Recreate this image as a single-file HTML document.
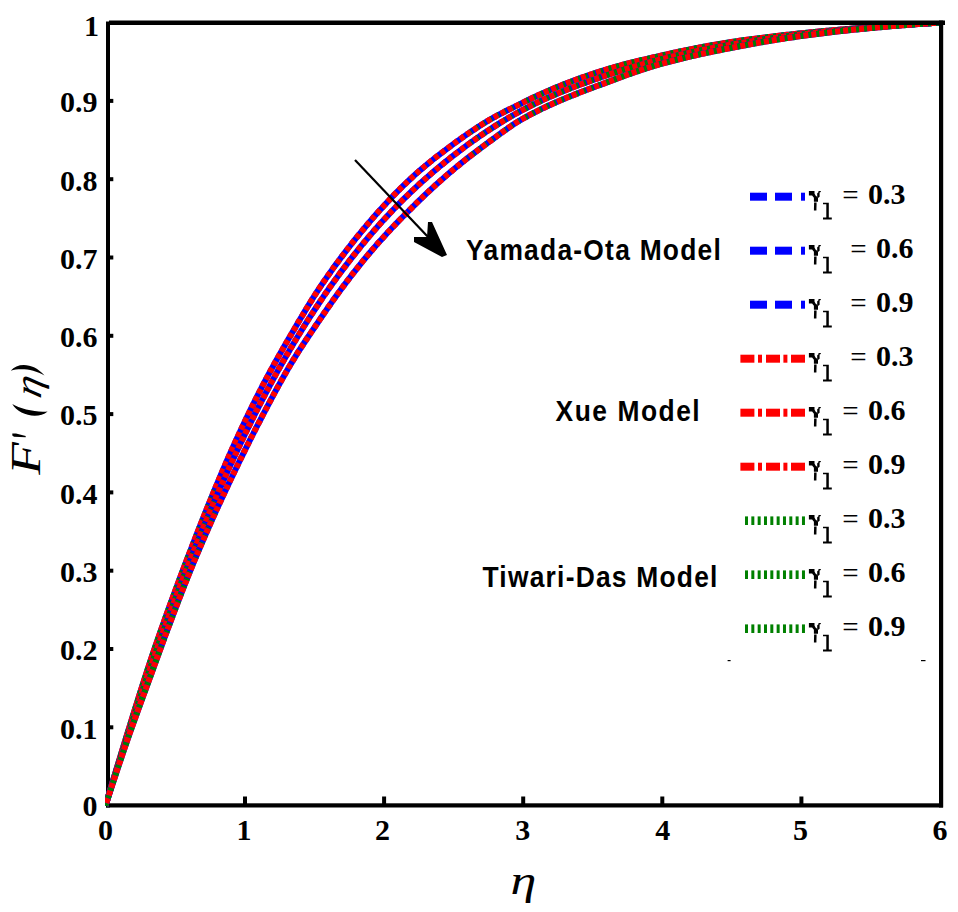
<!DOCTYPE html>
<html><head><meta charset="utf-8"><style>
html,body{margin:0;padding:0;background:#fff;overflow:hidden;}
svg{display:block;}
.num{font-family:"Liberation Serif",serif;font-weight:bold;font-size:30px;fill:#000;}
.mdl{font-family:"Liberation Sans",sans-serif;font-weight:bold;font-size:29px;fill:#000;}
.gam{font-family:"Liberation Serif",serif;font-size:28.5px;fill:#000;}
.sub{font-family:"Liberation Serif",serif;font-size:25px;fill:#000;}
.eq{font-family:"Liberation Serif",serif;font-size:29px;fill:#000;}
.it{font-family:"Liberation Serif",serif;font-style:italic;fill:#000;}
.bi{font-family:"Liberation Serif",serif;font-style:italic;font-weight:bold;fill:#000;}
</style></head><body>
<svg width="958" height="912" viewBox="0 0 958 912">
<rect width="958" height="912" fill="#fff"/>

<g fill="#000">
<rect x="106" y="21.5" width="4" height="786"/>
<rect x="109" y="20.5" width="836" height="4.5"/>
<rect x="939" y="20.5" width="4.2" height="787"/>
<rect x="106" y="803.3" width="837" height="4.2"/>
<rect x="110" y="725.3" width="3.3" height="4"/><rect x="110" y="647.0" width="3.3" height="4"/><rect x="110" y="568.7" width="3.3" height="4"/><rect x="110" y="490.4" width="3.3" height="4"/><rect x="110" y="412.1" width="3.3" height="4"/><rect x="110" y="333.8" width="3.3" height="4"/><rect x="110" y="255.5" width="3.3" height="4"/><rect x="110" y="177.2" width="3.3" height="4"/><rect x="110" y="98.9" width="3.3" height="4"/><rect x="243.0" y="796.5" width="4" height="8"/><rect x="382.1" y="796.5" width="4" height="8"/><rect x="521.2" y="796.5" width="4" height="8"/><rect x="660.3" y="796.5" width="4" height="8"/><rect x="799.4" y="796.5" width="4" height="8"/>
</g>
<defs><g id="gam" fill="#000"><polygon points="808.9,190.9 814.5,190.9 814.5,193.5 815.5,195.5 818,197.6 818,201.8 813.9,201.8 813.9,197.8 812.1,195.5 808.9,195.5"/><polygon points="817.2,193.3 818.3,192.6 818.6,190.9 820.8,190.9 820.8,191.9 819.6,192.4 819.6,196.7 818,198 817.2,196.9"/><polygon points="814.1,202.6 816.6,202.6 816.4,210.5 813.9,210.5"/><polygon points="823,202.8 828.8,202.8 828.8,217.6 831.8,217.6 831.8,219.6 823,219.6 823,217.6 826.3,217.6 826.3,204.2 823,204.2"/></g><clipPath id="pc"><rect x="105" y="25" width="834" height="782"/></clipPath></defs>
<g fill="none" stroke-width="6.0" clip-path="url(#pc)"><path d="M105.50,805.60 L107.49,798.95 L109.47,792.32 L111.46,785.72 L113.45,779.14 L115.44,772.59 L117.42,766.06 L119.41,759.55 L121.40,753.07 L123.38,746.62 L125.37,740.18 L127.36,733.75 L129.35,727.32 L131.33,720.91 L133.32,714.51 L135.31,708.14 L137.29,701.80 L139.28,695.50 L141.27,689.23 L143.26,683.01 L145.24,676.85 L147.23,670.73 L149.22,664.68 L151.20,658.69 L153.19,652.77 L155.18,646.93 L157.17,641.17 L159.15,635.45 L161.14,629.79 L163.13,624.16 L165.11,618.58 L167.10,613.04 L169.09,607.55 L171.08,602.09 L173.06,596.67 L175.05,591.28 L177.04,585.93 L179.02,580.60 L181.01,575.31 L183.00,570.05 L184.99,564.82 L186.97,559.61 L188.96,554.42 L190.95,549.26 L192.93,544.11 L194.92,538.99 L196.91,533.89 L198.90,528.82 L200.88,523.77 L202.87,518.76 L204.86,513.77 L206.84,508.82 L208.83,503.91 L210.82,499.03 L212.81,494.20 L214.79,489.40 L216.78,484.64 L218.77,479.91 L220.75,475.21 L222.74,470.54 L224.73,465.90 L226.72,461.31 L228.70,456.75 L230.69,452.24 L232.68,447.78 L234.66,443.37 L236.65,439.01 L238.64,434.70 L240.63,430.43 L242.61,426.19 L244.60,421.99 L246.59,417.82 L248.57,413.70 L250.56,409.61 L252.55,405.56 L254.54,401.55 L256.52,397.59 L258.51,393.66 L260.50,389.78 L262.48,385.95 L264.47,382.15 L266.46,378.40 L268.45,374.69 L270.43,371.02 L272.42,367.38 L274.41,363.78 L276.39,360.21 L278.38,356.67 L280.37,353.15 L282.36,349.67 L284.34,346.21 L286.33,342.77 L288.32,339.35 L290.30,335.95 L292.29,332.56 L294.28,329.16 L296.27,325.77 L298.25,322.39 L300.24,319.03 L302.23,315.69 L304.21,312.36 L306.20,309.07 L308.19,305.80 L310.18,302.57 L312.16,299.38 L314.15,296.23 L316.14,293.12 L318.12,290.07 L320.11,287.07 L322.10,284.12 L324.09,281.21 L326.07,278.33 L328.06,275.49 L330.05,272.67 L332.03,269.88 L334.02,267.11 L336.01,264.38 L338.00,261.67 L339.98,258.99 L341.97,256.34 L343.96,253.71 L345.94,251.11 L347.93,248.53 L349.92,245.98 L351.91,243.45 L353.89,240.94 L355.88,238.45 L357.87,235.99 L359.85,233.54 L361.84,231.12 L363.83,228.73 L365.82,226.35 L367.80,224.00 L369.79,221.67 L371.78,219.36 L373.76,217.08 L375.75,214.82 L377.74,212.58 L379.73,210.36 L381.71,208.16 L383.70,205.99 L385.69,203.84 L387.67,201.71 L389.66,199.60 L391.65,197.52 L393.64,195.45 L395.62,193.41 L397.61,191.39 L399.60,189.40 L401.58,187.42 L403.57,185.47 L405.56,183.54 L407.55,181.64 L409.53,179.78 L411.52,177.93 L413.51,176.12 L415.49,174.33 L417.48,172.57 L419.47,170.83 L421.46,169.12 L423.44,167.42 L425.43,165.75 L427.42,164.11 L429.40,162.48 L431.39,160.87 L433.38,159.28 L435.37,157.71 L437.35,156.15 L439.34,154.61 L441.33,153.09 L443.31,151.57 L445.30,150.07 L447.29,148.58 L449.28,147.09 L451.26,145.61 L453.25,144.15 L455.24,142.70 L457.22,141.26 L459.21,139.83 L461.20,138.41 L463.19,137.01 L465.17,135.62 L467.16,134.24 L469.15,132.88 L471.13,131.54 L473.12,130.21 L475.11,128.89 L477.10,127.59 L479.08,126.31 L481.07,125.05 L483.06,123.80 L485.04,122.57 L487.03,121.35 L489.02,120.16 L491.01,119.00 L492.99,117.86 L494.98,116.76 L496.97,115.68 L498.95,114.61 L500.94,113.57 L502.93,112.55 L504.92,111.54 L506.90,110.54 L508.89,109.55 L510.88,108.57 L512.86,107.59 L514.85,106.61 L516.84,105.64 L518.83,104.66 L520.81,103.67 L522.80,102.68 L524.79,101.68 L526.77,100.70 L528.76,99.73 L530.75,98.77 L532.74,97.82 L534.72,96.89 L536.71,95.96 L538.70,95.05 L540.68,94.15 L542.67,93.25 L544.66,92.37 L546.65,91.50 L548.63,90.64 L550.62,89.79 L552.61,88.95 L554.59,88.12 L556.58,87.29 L558.57,86.48 L560.56,85.68 L562.54,84.88 L564.53,84.10 L566.52,83.33 L568.50,82.56 L570.49,81.80 L572.48,81.05 L574.47,80.31 L576.45,79.58 L578.44,78.86 L580.43,78.14 L582.41,77.43 L584.40,76.73 L586.39,76.04 L588.38,75.35 L590.36,74.68 L592.35,74.01 L594.34,73.35 L596.32,72.69 L598.31,72.04 L600.30,71.40 L602.29,70.77 L604.27,70.15 L606.26,69.53 L608.25,68.93 L610.23,68.34 L612.22,67.76 L614.21,67.18 L616.20,66.62 L618.18,66.07 L620.17,65.53 L622.16,65.00 L624.14,64.47 L626.13,63.95 L628.12,63.44 L630.11,62.94 L632.09,62.44 L634.08,61.95 L636.07,61.47 L638.05,60.99 L640.04,60.51 L642.03,60.04 L644.02,59.57 L646.00,59.11 L647.99,58.65 L649.98,58.19 L651.96,57.73 L653.95,57.27 L655.94,56.82 L657.93,56.37 L659.91,55.91 L661.90,55.46 L663.89,55.01 L665.87,54.56 L667.86,54.12 L669.85,53.68 L671.84,53.24 L673.82,52.80 L675.81,52.37 L677.80,51.95 L679.78,51.53 L681.77,51.11 L683.76,50.69 L685.75,50.28 L687.73,49.88 L689.72,49.48 L691.71,49.08 L693.69,48.68 L695.68,48.29 L697.67,47.91 L699.66,47.52 L701.64,47.15 L703.63,46.77 L705.62,46.40 L707.60,46.04 L709.59,45.68 L711.58,45.32 L713.57,44.97 L715.55,44.62 L717.54,44.28 L719.53,43.94 L721.51,43.61 L723.50,43.28 L725.49,42.95 L727.48,42.63 L729.46,42.32 L731.45,42.01 L733.44,41.70 L735.42,41.40 L737.41,41.11 L739.40,40.82 L741.39,40.53 L743.37,40.25 L745.36,39.97 L747.35,39.69 L749.33,39.42 L751.32,39.15 L753.31,38.89 L755.30,38.63 L757.28,38.37 L759.27,38.11 L761.26,37.86 L763.24,37.61 L765.23,37.37 L767.22,37.13 L769.21,36.89 L771.19,36.65 L773.18,36.42 L775.17,36.18 L777.15,35.95 L779.14,35.73 L781.13,35.50 L783.12,35.28 L785.10,35.06 L787.09,34.84 L789.08,34.62 L791.06,34.40 L793.05,34.19 L795.04,33.98 L797.03,33.76 L799.01,33.55 L801.00,33.34 L802.99,33.14 L804.97,32.93 L806.96,32.73 L808.95,32.53 L810.94,32.33 L812.92,32.13 L814.91,31.93 L816.90,31.74 L818.88,31.55 L820.87,31.36 L822.86,31.17 L824.85,30.98 L826.83,30.80 L828.82,30.62 L830.81,30.43 L832.79,30.26 L834.78,30.08 L836.77,29.90 L838.76,29.73 L840.74,29.56 L842.73,29.38 L844.72,29.21 L846.70,29.05 L848.69,28.88 L850.68,28.71 L852.67,28.55 L854.65,28.39 L856.64,28.23 L858.63,28.07 L860.61,27.91 L862.60,27.75 L864.59,27.60 L866.58,27.44 L868.56,27.29 L870.55,27.14 L872.54,26.99 L874.52,26.84 L876.51,26.69 L878.50,26.54 L880.49,26.40 L882.47,26.26 L884.46,26.11 L886.45,25.97 L888.43,25.83 L890.42,25.70 L892.41,25.56 L894.40,25.42 L896.38,25.29 L898.37,25.16 L900.36,25.02 L902.34,24.89 L904.33,24.76 L906.32,24.64 L908.31,24.51 L910.29,24.38 L912.28,24.26 L914.27,24.13 L916.25,24.01 L918.24,23.89 L920.23,23.77 L922.22,23.65 L924.20,23.53 L926.19,23.41 L928.18,23.29 L930.16,23.17 L932.15,23.06 L934.14,22.94 L936.13,22.83 L938.11,22.71 L940.10,22.60" stroke="#0000ff"/><path d="M105.50,805.60 L107.49,798.95 L109.47,792.32 L111.46,785.72 L113.45,779.14 L115.44,772.59 L117.42,766.06 L119.41,759.55 L121.40,753.07 L123.38,746.62 L125.37,740.18 L127.36,733.75 L129.35,727.32 L131.33,720.91 L133.32,714.51 L135.31,708.14 L137.29,701.80 L139.28,695.50 L141.27,689.23 L143.26,683.01 L145.24,676.85 L147.23,670.73 L149.22,664.68 L151.20,658.69 L153.19,652.77 L155.18,646.93 L157.17,641.17 L159.15,635.45 L161.14,629.79" stroke="#008000" stroke-dasharray="3 5" stroke-dashoffset="3.00"/><path d="M161.14,629.79 L163.28,623.73 L165.42,617.73 L167.56,611.77 L169.70,605.86 L171.84,600.00 L173.98,594.17 L176.12,588.39 L178.26,582.65 L180.40,576.94 L182.54,571.26 L184.68,565.62 L186.82,560.01 L188.96,554.42" stroke="#008000" stroke-dasharray="2 6" stroke-dashoffset="3.43"/><path d="M188.96,554.42 L190.95,549.26 L192.93,544.11 L194.92,538.99 L196.91,533.89 L198.90,528.82 L200.88,523.77 L202.87,518.76 L204.86,513.77 L206.84,508.82 L208.83,503.91 L210.82,499.03 L212.81,494.20 L214.79,489.40 L216.78,484.64" stroke="#008000" stroke-dasharray="1 7" stroke-dashoffset="3.76"/><path d="M467.16,134.24 L469.22,132.83 L471.28,131.44 L473.34,130.06 L475.40,128.70 L477.46,127.36 L479.52,126.03 L481.59,124.72 L483.65,123.43 L485.71,122.16 L487.77,120.91 L489.83,119.68 L491.89,118.49 L493.95,117.33 L496.01,116.19 L498.07,115.08 L500.13,114.00 L502.19,112.93 L504.25,111.87 L506.31,110.83 L508.37,109.81 L510.44,108.79 L512.50,107.77 L514.56,106.76 L516.62,105.75 L518.68,104.73 L520.74,103.71 L522.80,102.68" stroke="#008000" stroke-dasharray="1 7" stroke-dashoffset="3.62"/><path d="M522.80,102.68 L524.79,101.68 L526.77,100.70 L528.76,99.73 L530.75,98.77 L532.74,97.82 L534.72,96.89 L536.71,95.96 L538.70,95.05 L540.68,94.15 L542.67,93.25 L544.66,92.37 L546.65,91.50 L548.63,90.64 L550.62,89.79 L552.61,88.95 L554.59,88.12 L556.58,87.29 L558.57,86.48 L560.56,85.68 L562.54,84.88 L564.53,84.10 L566.52,83.33 L568.50,82.56 L570.49,81.80 L572.48,81.05 L574.47,80.31 L576.45,79.58 L578.44,78.86 L580.43,78.14 L582.41,77.43 L584.40,76.73 L586.39,76.04 L588.38,75.35 L590.36,74.68 L592.35,74.01 L594.34,73.35 L596.32,72.69 L598.31,72.04 L600.30,71.40 L602.29,70.77 L604.27,70.15 L606.26,69.53" stroke="#008000" stroke-dasharray="2 6" stroke-dashoffset="3.68"/><path d="M606.26,69.53 L608.25,68.93 L610.23,68.34 L612.22,67.76 L614.21,67.18 L616.20,66.62 L618.18,66.07 L620.17,65.53 L622.16,65.00 L624.14,64.47 L626.13,63.95 L628.12,63.44 L630.11,62.94 L632.09,62.44 L634.08,61.95 L636.07,61.47 L638.05,60.99 L640.04,60.51 L642.03,60.04 L644.02,59.57 L646.00,59.11 L647.99,58.65 L649.98,58.19 L651.96,57.73 L653.95,57.27 L655.94,56.82 L657.93,56.37 L659.91,55.91 L661.90,55.46 L663.89,55.01 L665.87,54.56 L667.86,54.12 L669.85,53.68 L671.84,53.24 L673.82,52.80 L675.81,52.37 L677.80,51.95 L679.78,51.53 L681.77,51.11 L683.76,50.69 L685.75,50.28 L687.73,49.88 L689.72,49.48 L691.71,49.08 L693.69,48.68 L695.68,48.29 L697.67,47.91 L699.66,47.52 L701.64,47.15 L703.63,46.77 L705.62,46.40 L707.60,46.04 L709.59,45.68 L711.58,45.32 L713.57,44.97 L715.55,44.62 L717.54,44.28 L719.53,43.94 L721.51,43.61 L723.50,43.28 L725.49,42.95 L727.48,42.63 L729.46,42.32 L731.45,42.01 L733.44,41.70 L735.42,41.40 L737.41,41.11 L739.40,40.82 L741.39,40.53 L743.37,40.25 L745.36,39.97 L747.35,39.69 L749.33,39.42 L751.32,39.15 L753.31,38.89 L755.30,38.63 L757.28,38.37 L759.27,38.11 L761.26,37.86 L763.24,37.61 L765.23,37.37 L767.22,37.13 L769.21,36.89 L771.19,36.65 L773.18,36.42 L775.17,36.18 L777.15,35.95 L779.14,35.73 L781.13,35.50 L783.12,35.28 L785.10,35.06 L787.09,34.84 L789.08,34.62 L791.06,34.40 L793.05,34.19 L795.04,33.98 L797.03,33.76 L799.01,33.55 L801.00,33.34 L802.99,33.14 L804.97,32.93 L806.96,32.73 L808.95,32.53 L810.94,32.33 L812.92,32.13 L814.91,31.93 L816.90,31.74 L818.88,31.55 L820.87,31.36 L822.86,31.17 L824.85,30.98 L826.83,30.80 L828.82,30.62 L830.81,30.43 L832.79,30.26 L834.78,30.08 L836.77,29.90 L838.76,29.73 L840.74,29.56 L842.73,29.38 L844.72,29.21 L846.70,29.05 L848.69,28.88 L850.68,28.71 L852.67,28.55 L854.65,28.39 L856.64,28.23 L858.63,28.07 L860.61,27.91 L862.60,27.75 L864.59,27.60 L866.58,27.44 L868.56,27.29 L870.55,27.14 L872.54,26.99 L874.52,26.84 L876.51,26.69 L878.50,26.54 L880.49,26.40 L882.47,26.26 L884.46,26.11 L886.45,25.97 L888.43,25.83 L890.42,25.70 L892.41,25.56 L894.40,25.42 L896.38,25.29 L898.37,25.16 L900.36,25.02 L902.34,24.89 L904.33,24.76 L906.32,24.64 L908.31,24.51 L910.29,24.38 L912.28,24.26 L914.27,24.13 L916.25,24.01 L918.24,23.89 L920.23,23.77 L922.22,23.65 L924.20,23.53 L926.19,23.41 L928.18,23.29 L930.16,23.17 L932.15,23.06 L934.14,22.94 L936.13,22.83 L938.11,22.71 L940.10,22.60" stroke="#008000" stroke-dasharray="3 5" stroke-dashoffset="5.58"/><path d="M105.50,805.60 L107.49,798.95 L109.47,792.32 L111.46,785.72 L113.45,779.14 L115.44,772.59 L117.42,766.06 L119.41,759.55 L121.40,753.07 L123.38,746.62 L125.37,740.18 L127.36,733.75 L129.35,727.32 L131.33,720.91 L133.32,714.51 L135.31,708.14 L137.29,701.80 L139.28,695.50 L141.27,689.23 L143.26,683.01 L145.24,676.85 L147.23,670.73 L149.22,664.68 L151.20,658.69 L153.19,652.77 L155.18,646.93 L157.17,641.17 L159.15,635.45 L161.14,629.79 L163.13,624.16 L165.11,618.58 L167.10,613.04 L169.09,607.55 L171.08,602.09 L173.06,596.67 L175.05,591.28 L177.04,585.93 L179.02,580.60 L181.01,575.31 L183.00,570.05 L184.99,564.82 L186.97,559.61 L188.96,554.42 L190.95,549.26 L192.93,544.11 L194.92,538.99 L196.91,533.89 L198.90,528.82 L200.88,523.77 L202.87,518.76 L204.86,513.77 L206.84,508.82 L208.83,503.91 L210.82,499.03 L212.81,494.20 L214.79,489.40 L216.78,484.64 L218.77,479.91 L220.75,475.21 L222.74,470.54 L224.73,465.90 L226.72,461.31 L228.70,456.75 L230.69,452.24 L232.68,447.78 L234.66,443.37 L236.65,439.01 L238.64,434.70 L240.63,430.43 L242.61,426.19 L244.60,421.99 L246.59,417.82 L248.57,413.70 L250.56,409.61 L252.55,405.56 L254.54,401.55 L256.52,397.59 L258.51,393.66 L260.50,389.78 L262.48,385.95 L264.47,382.15 L266.46,378.40 L268.45,374.69 L270.43,371.02 L272.42,367.38 L274.41,363.78 L276.39,360.21 L278.38,356.67 L280.37,353.15 L282.36,349.67 L284.34,346.21 L286.33,342.77 L288.32,339.35 L290.30,335.95 L292.29,332.56 L294.28,329.16 L296.27,325.77 L298.25,322.39 L300.24,319.03 L302.23,315.69 L304.21,312.36 L306.20,309.07 L308.19,305.80 L310.18,302.57 L312.16,299.38 L314.15,296.23 L316.14,293.12 L318.12,290.07 L320.11,287.07 L322.10,284.12 L324.09,281.21 L326.07,278.33 L328.06,275.49 L330.05,272.67 L332.03,269.88 L334.02,267.11 L336.01,264.38 L338.00,261.67 L339.98,258.99 L341.97,256.34 L343.96,253.71 L345.94,251.11 L347.93,248.53 L349.92,245.98 L351.91,243.45 L353.89,240.94 L355.88,238.45 L357.87,235.99 L359.85,233.54 L361.84,231.12 L363.83,228.73 L365.82,226.35 L367.80,224.00 L369.79,221.67 L371.78,219.36 L373.76,217.08 L375.75,214.82 L377.74,212.58 L379.73,210.36 L381.71,208.16 L383.70,205.99 L385.69,203.84 L387.67,201.71 L389.66,199.60 L391.65,197.52 L393.64,195.45 L395.62,193.41 L397.61,191.39 L399.60,189.40 L401.58,187.42 L403.57,185.47 L405.56,183.54 L407.55,181.64 L409.53,179.78 L411.52,177.93 L413.51,176.12 L415.49,174.33 L417.48,172.57 L419.47,170.83 L421.46,169.12 L423.44,167.42 L425.43,165.75 L427.42,164.11 L429.40,162.48 L431.39,160.87 L433.38,159.28 L435.37,157.71 L437.35,156.15 L439.34,154.61 L441.33,153.09 L443.31,151.57 L445.30,150.07 L447.29,148.58 L449.28,147.09 L451.26,145.61 L453.25,144.15 L455.24,142.70 L457.22,141.26 L459.21,139.83 L461.20,138.41 L463.19,137.01 L465.17,135.62 L467.16,134.24 L469.15,132.88 L471.13,131.54 L473.12,130.21 L475.11,128.89 L477.10,127.59 L479.08,126.31 L481.07,125.05 L483.06,123.80 L485.04,122.57 L487.03,121.35 L489.02,120.16 L491.01,119.00 L492.99,117.86 L494.98,116.76 L496.97,115.68 L498.95,114.61 L500.94,113.57 L502.93,112.55 L504.92,111.54 L506.90,110.54 L508.89,109.55 L510.88,108.57 L512.86,107.59 L514.85,106.61 L516.84,105.64 L518.83,104.66 L520.81,103.67 L522.80,102.68 L524.79,101.68 L526.77,100.70 L528.76,99.73 L530.75,98.77 L532.74,97.82 L534.72,96.89 L536.71,95.96 L538.70,95.05 L540.68,94.15 L542.67,93.25 L544.66,92.37 L546.65,91.50 L548.63,90.64 L550.62,89.79 L552.61,88.95 L554.59,88.12 L556.58,87.29 L558.57,86.48 L560.56,85.68 L562.54,84.88 L564.53,84.10 L566.52,83.33 L568.50,82.56 L570.49,81.80 L572.48,81.05 L574.47,80.31 L576.45,79.58 L578.44,78.86 L580.43,78.14 L582.41,77.43 L584.40,76.73 L586.39,76.04 L588.38,75.35 L590.36,74.68 L592.35,74.01 L594.34,73.35 L596.32,72.69 L598.31,72.04 L600.30,71.40 L602.29,70.77 L604.27,70.15 L606.26,69.53 L608.25,68.93 L610.23,68.34 L612.22,67.76 L614.21,67.18 L616.20,66.62 L618.18,66.07 L620.17,65.53 L622.16,65.00 L624.14,64.47 L626.13,63.95 L628.12,63.44 L630.11,62.94 L632.09,62.44 L634.08,61.95 L636.07,61.47 L638.05,60.99 L640.04,60.51 L642.03,60.04 L644.02,59.57 L646.00,59.11 L647.99,58.65 L649.98,58.19 L651.96,57.73 L653.95,57.27 L655.94,56.82 L657.93,56.37 L659.91,55.91 L661.90,55.46 L663.89,55.01 L665.87,54.56 L667.86,54.12 L669.85,53.68 L671.84,53.24 L673.82,52.80 L675.81,52.37 L677.80,51.95 L679.78,51.53 L681.77,51.11 L683.76,50.69 L685.75,50.28 L687.73,49.88 L689.72,49.48 L691.71,49.08 L693.69,48.68 L695.68,48.29 L697.67,47.91 L699.66,47.52 L701.64,47.15 L703.63,46.77 L705.62,46.40 L707.60,46.04 L709.59,45.68 L711.58,45.32 L713.57,44.97 L715.55,44.62 L717.54,44.28 L719.53,43.94 L721.51,43.61 L723.50,43.28 L725.49,42.95 L727.48,42.63 L729.46,42.32 L731.45,42.01 L733.44,41.70 L735.42,41.40 L737.41,41.11 L739.40,40.82 L741.39,40.53 L743.37,40.25 L745.36,39.97 L747.35,39.69 L749.33,39.42 L751.32,39.15 L753.31,38.89 L755.30,38.63 L757.28,38.37 L759.27,38.11 L761.26,37.86 L763.24,37.61 L765.23,37.37 L767.22,37.13 L769.21,36.89 L771.19,36.65 L773.18,36.42 L775.17,36.18 L777.15,35.95 L779.14,35.73 L781.13,35.50 L783.12,35.28 L785.10,35.06 L787.09,34.84 L789.08,34.62 L791.06,34.40 L793.05,34.19 L795.04,33.98 L797.03,33.76 L799.01,33.55 L801.00,33.34 L802.99,33.14 L804.97,32.93 L806.96,32.73 L808.95,32.53 L810.94,32.33 L812.92,32.13 L814.91,31.93 L816.90,31.74 L818.88,31.55 L820.87,31.36 L822.86,31.17 L824.85,30.98 L826.83,30.80 L828.82,30.62 L830.81,30.43 L832.79,30.26 L834.78,30.08 L836.77,29.90 L838.76,29.73 L840.74,29.56 L842.73,29.38 L844.72,29.21 L846.70,29.05 L848.69,28.88 L850.68,28.71 L852.67,28.55 L854.65,28.39 L856.64,28.23 L858.63,28.07 L860.61,27.91 L862.60,27.75 L864.59,27.60 L866.58,27.44 L868.56,27.29 L870.55,27.14 L872.54,26.99 L874.52,26.84 L876.51,26.69 L878.50,26.54 L880.49,26.40 L882.47,26.26 L884.46,26.11 L886.45,25.97 L888.43,25.83 L890.42,25.70 L892.41,25.56 L894.40,25.42 L896.38,25.29 L898.37,25.16 L900.36,25.02 L902.34,24.89 L904.33,24.76 L906.32,24.64 L908.31,24.51 L910.29,24.38 L912.28,24.26 L914.27,24.13 L916.25,24.01 L918.24,23.89 L920.23,23.77 L922.22,23.65 L924.20,23.53 L926.19,23.41 L928.18,23.29 L930.16,23.17 L932.15,23.06 L934.14,22.94 L936.13,22.83 L938.11,22.71 L940.10,22.60" stroke="#ff0000" stroke-dasharray="5 3" stroke-dashoffset="0"/><path d="M105.50,805.60 L107.49,799.18 L109.47,792.79 L111.46,786.42 L113.45,780.09 L115.44,773.78 L117.42,767.51 L119.41,761.26 L121.40,755.05 L123.38,748.86 L125.37,742.71 L127.36,736.59 L129.35,730.50 L131.33,724.44 L133.32,718.41 L135.31,712.42 L137.29,706.46 L139.28,700.53 L141.27,694.63 L143.26,688.76 L145.24,682.93 L147.23,677.13 L149.22,671.37 L151.20,665.64 L153.19,659.94 L155.18,654.27 L157.17,648.64 L159.15,643.05 L161.14,637.48 L163.13,631.96 L165.11,626.46 L167.10,621.00 L169.09,615.57 L171.08,610.18 L173.06,604.83 L175.05,599.50 L177.04,594.22 L179.02,588.96 L181.01,583.74 L183.00,578.56 L184.99,573.41 L186.97,568.30 L188.96,563.22 L190.95,558.17 L192.93,553.16 L194.92,548.19 L196.91,543.24 L198.90,538.34 L200.88,533.47 L202.87,528.63 L204.86,523.83 L206.84,519.06 L208.83,514.33 L210.82,509.63 L212.81,504.96 L214.79,500.34 L216.78,495.74 L218.77,491.18 L220.75,486.65 L222.74,482.16 L224.73,477.70 L226.72,473.28 L228.70,468.89 L230.69,464.53 L232.68,460.21 L234.66,455.92 L236.65,451.66 L238.64,447.44 L240.63,443.25 L242.61,439.09 L244.60,434.97 L246.59,430.88 L248.57,426.82 L250.56,422.80 L252.55,418.81 L254.54,414.85 L256.52,410.92 L258.51,407.03 L260.50,403.17 L262.48,399.34 L264.47,395.54 L266.46,391.77 L268.45,388.04 L270.43,384.33 L272.42,380.66 L274.41,377.02 L276.39,373.41 L278.38,369.83 L280.37,366.28 L282.36,362.76 L284.34,359.28 L286.33,355.82 L288.32,352.39 L290.30,348.99 L292.29,345.63 L294.28,342.29 L296.27,338.98 L298.25,335.70 L300.24,332.45 L302.23,329.23 L304.21,326.04 L306.20,322.87 L308.19,319.74 L310.18,316.63 L312.16,313.55 L314.15,310.50 L316.14,307.48 L318.12,304.48 L320.11,301.51 L322.10,298.57 L324.09,295.66 L326.07,292.77 L328.06,289.91 L330.05,287.07 L332.03,284.26 L334.02,281.48 L336.01,278.73 L338.00,276.00 L339.98,273.29 L341.97,270.61 L343.96,267.96 L345.94,265.33 L347.93,262.73 L349.92,260.15 L351.91,257.59 L353.89,255.06 L355.88,252.56 L357.87,250.08 L359.85,247.62 L361.84,245.18 L363.83,242.77 L365.82,240.38 L367.80,238.02 L369.79,235.68 L371.78,233.36 L373.76,231.06 L375.75,228.79 L377.74,226.54 L379.73,224.31 L381.71,222.10 L383.70,219.91 L385.69,217.75 L387.67,215.60 L389.66,213.48 L391.65,211.38 L393.64,209.30 L395.62,207.24 L397.61,205.20 L399.60,203.18 L401.58,201.18 L403.57,199.20 L405.56,197.24 L407.55,195.30 L409.53,193.38 L411.52,191.48 L413.51,189.60 L415.49,187.74 L417.48,185.90 L419.47,184.07 L421.46,182.26 L423.44,180.48 L425.43,178.70 L427.42,176.95 L429.40,175.22 L431.39,173.50 L433.38,171.80 L435.37,170.12 L437.35,168.46 L439.34,166.81 L441.33,165.18 L443.31,163.56 L445.30,161.95 L447.29,160.35 L449.28,158.77 L451.26,157.21 L453.25,155.65 L455.24,154.11 L457.22,152.58 L459.21,151.07 L461.20,149.57 L463.19,148.08 L465.17,146.60 L467.16,145.14 L469.15,143.69 L471.13,142.26 L473.12,140.84 L475.11,139.43 L477.10,138.04 L479.08,136.66 L481.07,135.29 L483.06,133.94 L485.04,132.60 L487.03,131.28 L489.02,129.97 L491.01,128.67 L492.99,127.39 L494.98,126.12 L496.97,124.87 L498.95,123.63 L500.94,122.40 L502.93,121.19 L504.92,120.00 L506.90,118.82 L508.89,117.65 L510.88,116.50 L512.86,115.36 L514.85,114.24 L516.84,113.13 L518.83,112.04 L520.81,110.96 L522.80,109.90 L524.79,108.85 L526.77,107.82 L528.76,106.80 L530.75,105.80 L532.74,104.81 L534.72,103.84 L536.71,102.87 L538.70,101.92 L540.68,100.99 L542.67,100.07 L544.66,99.15 L546.65,98.26 L548.63,97.37 L550.62,96.49 L552.61,95.63 L554.59,94.77 L556.58,93.93 L558.57,93.10 L560.56,92.27 L562.54,91.46 L564.53,90.65 L566.52,89.86 L568.50,89.07 L570.49,88.29 L572.48,87.52 L574.47,86.76 L576.45,86.00 L578.44,85.26 L580.43,84.52 L582.41,83.78 L584.40,83.06 L586.39,82.33 L588.38,81.62 L590.36,80.91 L592.35,80.21 L594.34,79.51 L596.32,78.81 L598.31,78.12 L600.30,77.44 L602.29,76.76 L604.27,76.08 L606.26,75.41 L608.25,74.74 L610.23,74.08 L612.22,73.42 L614.21,72.78 L616.20,72.14 L618.18,71.50 L620.17,70.88 L622.16,70.26 L624.14,69.64 L626.13,69.04 L628.12,68.44 L630.11,67.84 L632.09,67.26 L634.08,66.67 L636.07,66.10 L638.05,65.53 L640.04,64.97 L642.03,64.41 L644.02,63.86 L646.00,63.32 L647.99,62.78 L649.98,62.24 L651.96,61.72 L653.95,61.19 L655.94,60.68 L657.93,60.17 L659.91,59.66 L661.90,59.16 L663.89,58.67 L665.87,58.18 L667.86,57.69 L669.85,57.21 L671.84,56.74 L673.82,56.27 L675.81,55.80 L677.80,55.35 L679.78,54.89 L681.77,54.44 L683.76,54.00 L685.75,53.56 L687.73,53.12 L689.72,52.69 L691.71,52.27 L693.69,51.84 L695.68,51.43 L697.67,51.01 L699.66,50.61 L701.64,50.20 L703.63,49.80 L705.62,49.41 L707.60,49.02 L709.59,48.63 L711.58,48.24 L713.57,47.87 L715.55,47.49 L717.54,47.12 L719.53,46.75 L721.51,46.39 L723.50,46.03 L725.49,45.67 L727.48,45.32 L729.46,44.97 L731.45,44.63 L733.44,44.29 L735.42,43.95 L737.41,43.62 L739.40,43.29 L741.39,42.96 L743.37,42.63 L745.36,42.31 L747.35,42.00 L749.33,41.68 L751.32,41.37 L753.31,41.07 L755.30,40.76 L757.28,40.46 L759.27,40.16 L761.26,39.87 L763.24,39.58 L765.23,39.29 L767.22,39.00 L769.21,38.72 L771.19,38.44 L773.18,38.17 L775.17,37.89 L777.15,37.62 L779.14,37.35 L781.13,37.09 L783.12,36.82 L785.10,36.56 L787.09,36.31 L789.08,36.05 L791.06,35.80 L793.05,35.55 L795.04,35.30 L797.03,35.06 L799.01,34.82 L801.00,34.58 L802.99,34.34 L804.97,34.11 L806.96,33.87 L808.95,33.64 L810.94,33.42 L812.92,33.19 L814.91,32.97 L816.90,32.75 L818.88,32.53 L820.87,32.31 L822.86,32.10 L824.85,31.89 L826.83,31.68 L828.82,31.47 L830.81,31.26 L832.79,31.06 L834.78,30.86 L836.77,30.66 L838.76,30.46 L840.74,30.27 L842.73,30.07 L844.72,29.88 L846.70,29.69 L848.69,29.51 L850.68,29.32 L852.67,29.14 L854.65,28.95 L856.64,28.77 L858.63,28.59 L860.61,28.42 L862.60,28.24 L864.59,28.07 L866.58,27.90 L868.56,27.73 L870.55,27.56 L872.54,27.39 L874.52,27.23 L876.51,27.07 L878.50,26.90 L880.49,26.74 L882.47,26.59 L884.46,26.43 L886.45,26.27 L888.43,26.12 L890.42,25.97 L892.41,25.82 L894.40,25.67 L896.38,25.52 L898.37,25.37 L900.36,25.23 L902.34,25.08 L904.33,24.94 L906.32,24.80 L908.31,24.66 L910.29,24.52 L912.28,24.39 L914.27,24.25 L916.25,24.12 L918.24,23.98 L920.23,23.85 L922.22,23.72 L924.20,23.59 L926.19,23.46 L928.18,23.34 L930.16,23.21 L932.15,23.09 L934.14,22.96 L936.13,22.84 L938.11,22.72 L940.10,22.60" stroke="#0000ff"/><path d="M105.50,805.60 L107.49,799.18 L109.47,792.79 L111.46,786.42 L113.45,780.09 L115.44,773.78 L117.42,767.51 L119.41,761.26 L121.40,755.05 L123.38,748.86 L125.37,742.71 L127.36,736.59 L129.35,730.50 L131.33,724.44 L133.32,718.41 L135.31,712.42 L137.29,706.46 L139.28,700.53 L141.27,694.63 L143.26,688.76 L145.24,682.93 L147.23,677.13 L149.22,671.37 L151.20,665.64 L153.19,659.94 L155.18,654.27 L157.17,648.64 L159.15,643.05 L161.14,637.48" stroke="#008000" stroke-dasharray="3 5" stroke-dashoffset="5.70"/><path d="M161.14,637.48 L163.28,631.53 L165.42,625.62 L167.56,619.75 L169.70,613.91 L171.84,608.12 L173.98,602.37 L176.12,596.65 L178.26,590.98 L180.40,585.35 L182.54,579.75 L184.68,574.20 L186.82,568.69 L188.96,563.22" stroke="#008000" stroke-dasharray="2 6" stroke-dashoffset="6.80"/><path d="M188.96,563.22 L190.95,558.17 L192.93,553.16 L194.92,548.19 L196.91,543.24 L198.90,538.34 L200.88,533.47 L202.87,528.63 L204.86,523.83 L206.84,519.06 L208.83,514.33 L210.82,509.63 L212.81,504.96 L214.79,500.34 L216.78,495.74" stroke="#008000" stroke-dasharray="1 7" stroke-dashoffset="6.11"/><path d="M467.16,145.14 L469.22,143.64 L471.28,142.15 L473.34,140.68 L475.40,139.22 L477.46,137.78 L479.52,136.35 L481.59,134.94 L483.65,133.54 L485.71,132.16 L487.77,130.79 L489.83,129.44 L491.89,128.10 L493.95,126.78 L496.01,125.47 L498.07,124.18 L500.13,122.90 L502.19,121.64 L504.25,120.39 L506.31,119.16 L508.37,117.95 L510.44,116.75 L512.50,115.57 L514.56,114.40 L516.62,113.25 L518.68,112.12 L520.74,111.00 L522.80,109.90" stroke="#008000" stroke-dasharray="1 7" stroke-dashoffset="3.20"/><path d="M522.80,109.90 L524.79,108.85 L526.77,107.82 L528.76,106.80 L530.75,105.80 L532.74,104.81 L534.72,103.84 L536.71,102.87 L538.70,101.92 L540.68,100.99 L542.67,100.07 L544.66,99.15 L546.65,98.26 L548.63,97.37 L550.62,96.49 L552.61,95.63 L554.59,94.77 L556.58,93.93 L558.57,93.10 L560.56,92.27 L562.54,91.46 L564.53,90.65 L566.52,89.86 L568.50,89.07 L570.49,88.29 L572.48,87.52 L574.47,86.76 L576.45,86.00 L578.44,85.26 L580.43,84.52 L582.41,83.78 L584.40,83.06 L586.39,82.33 L588.38,81.62 L590.36,80.91 L592.35,80.21 L594.34,79.51 L596.32,78.81 L598.31,78.12 L600.30,77.44 L602.29,76.76 L604.27,76.08 L606.26,75.41" stroke="#008000" stroke-dasharray="2 6" stroke-dashoffset="5.12"/><path d="M606.26,75.41 L608.25,74.74 L610.23,74.08 L612.22,73.42 L614.21,72.78 L616.20,72.14 L618.18,71.50 L620.17,70.88 L622.16,70.26 L624.14,69.64 L626.13,69.04 L628.12,68.44 L630.11,67.84 L632.09,67.26 L634.08,66.67 L636.07,66.10 L638.05,65.53 L640.04,64.97 L642.03,64.41 L644.02,63.86 L646.00,63.32 L647.99,62.78 L649.98,62.24 L651.96,61.72 L653.95,61.19 L655.94,60.68 L657.93,60.17 L659.91,59.66 L661.90,59.16 L663.89,58.67 L665.87,58.18 L667.86,57.69 L669.85,57.21 L671.84,56.74 L673.82,56.27 L675.81,55.80 L677.80,55.35 L679.78,54.89 L681.77,54.44 L683.76,54.00 L685.75,53.56 L687.73,53.12 L689.72,52.69 L691.71,52.27 L693.69,51.84 L695.68,51.43 L697.67,51.01 L699.66,50.61 L701.64,50.20 L703.63,49.80 L705.62,49.41 L707.60,49.02 L709.59,48.63 L711.58,48.24 L713.57,47.87 L715.55,47.49 L717.54,47.12 L719.53,46.75 L721.51,46.39 L723.50,46.03 L725.49,45.67 L727.48,45.32 L729.46,44.97 L731.45,44.63 L733.44,44.29 L735.42,43.95 L737.41,43.62 L739.40,43.29 L741.39,42.96 L743.37,42.63 L745.36,42.31 L747.35,42.00 L749.33,41.68 L751.32,41.37 L753.31,41.07 L755.30,40.76 L757.28,40.46 L759.27,40.16 L761.26,39.87 L763.24,39.58 L765.23,39.29 L767.22,39.00 L769.21,38.72 L771.19,38.44 L773.18,38.17 L775.17,37.89 L777.15,37.62 L779.14,37.35 L781.13,37.09 L783.12,36.82 L785.10,36.56 L787.09,36.31 L789.08,36.05 L791.06,35.80 L793.05,35.55 L795.04,35.30 L797.03,35.06 L799.01,34.82 L801.00,34.58 L802.99,34.34 L804.97,34.11 L806.96,33.87 L808.95,33.64 L810.94,33.42 L812.92,33.19 L814.91,32.97 L816.90,32.75 L818.88,32.53 L820.87,32.31 L822.86,32.10 L824.85,31.89 L826.83,31.68 L828.82,31.47 L830.81,31.26 L832.79,31.06 L834.78,30.86 L836.77,30.66 L838.76,30.46 L840.74,30.27 L842.73,30.07 L844.72,29.88 L846.70,29.69 L848.69,29.51 L850.68,29.32 L852.67,29.14 L854.65,28.95 L856.64,28.77 L858.63,28.59 L860.61,28.42 L862.60,28.24 L864.59,28.07 L866.58,27.90 L868.56,27.73 L870.55,27.56 L872.54,27.39 L874.52,27.23 L876.51,27.07 L878.50,26.90 L880.49,26.74 L882.47,26.59 L884.46,26.43 L886.45,26.27 L888.43,26.12 L890.42,25.97 L892.41,25.82 L894.40,25.67 L896.38,25.52 L898.37,25.37 L900.36,25.23 L902.34,25.08 L904.33,24.94 L906.32,24.80 L908.31,24.66 L910.29,24.52 L912.28,24.39 L914.27,24.25 L916.25,24.12 L918.24,23.98 L920.23,23.85 L922.22,23.72 L924.20,23.59 L926.19,23.46 L928.18,23.34 L930.16,23.21 L932.15,23.09 L934.14,22.96 L936.13,22.84 L938.11,22.72 L940.10,22.60" stroke="#008000" stroke-dasharray="3 5" stroke-dashoffset="7.52"/><path d="M105.50,805.60 L107.49,799.18 L109.47,792.79 L111.46,786.42 L113.45,780.09 L115.44,773.78 L117.42,767.51 L119.41,761.26 L121.40,755.05 L123.38,748.86 L125.37,742.71 L127.36,736.59 L129.35,730.50 L131.33,724.44 L133.32,718.41 L135.31,712.42 L137.29,706.46 L139.28,700.53 L141.27,694.63 L143.26,688.76 L145.24,682.93 L147.23,677.13 L149.22,671.37 L151.20,665.64 L153.19,659.94 L155.18,654.27 L157.17,648.64 L159.15,643.05 L161.14,637.48 L163.13,631.96 L165.11,626.46 L167.10,621.00 L169.09,615.57 L171.08,610.18 L173.06,604.83 L175.05,599.50 L177.04,594.22 L179.02,588.96 L181.01,583.74 L183.00,578.56 L184.99,573.41 L186.97,568.30 L188.96,563.22 L190.95,558.17 L192.93,553.16 L194.92,548.19 L196.91,543.24 L198.90,538.34 L200.88,533.47 L202.87,528.63 L204.86,523.83 L206.84,519.06 L208.83,514.33 L210.82,509.63 L212.81,504.96 L214.79,500.34 L216.78,495.74 L218.77,491.18 L220.75,486.65 L222.74,482.16 L224.73,477.70 L226.72,473.28 L228.70,468.89 L230.69,464.53 L232.68,460.21 L234.66,455.92 L236.65,451.66 L238.64,447.44 L240.63,443.25 L242.61,439.09 L244.60,434.97 L246.59,430.88 L248.57,426.82 L250.56,422.80 L252.55,418.81 L254.54,414.85 L256.52,410.92 L258.51,407.03 L260.50,403.17 L262.48,399.34 L264.47,395.54 L266.46,391.77 L268.45,388.04 L270.43,384.33 L272.42,380.66 L274.41,377.02 L276.39,373.41 L278.38,369.83 L280.37,366.28 L282.36,362.76 L284.34,359.28 L286.33,355.82 L288.32,352.39 L290.30,348.99 L292.29,345.63 L294.28,342.29 L296.27,338.98 L298.25,335.70 L300.24,332.45 L302.23,329.23 L304.21,326.04 L306.20,322.87 L308.19,319.74 L310.18,316.63 L312.16,313.55 L314.15,310.50 L316.14,307.48 L318.12,304.48 L320.11,301.51 L322.10,298.57 L324.09,295.66 L326.07,292.77 L328.06,289.91 L330.05,287.07 L332.03,284.26 L334.02,281.48 L336.01,278.73 L338.00,276.00 L339.98,273.29 L341.97,270.61 L343.96,267.96 L345.94,265.33 L347.93,262.73 L349.92,260.15 L351.91,257.59 L353.89,255.06 L355.88,252.56 L357.87,250.08 L359.85,247.62 L361.84,245.18 L363.83,242.77 L365.82,240.38 L367.80,238.02 L369.79,235.68 L371.78,233.36 L373.76,231.06 L375.75,228.79 L377.74,226.54 L379.73,224.31 L381.71,222.10 L383.70,219.91 L385.69,217.75 L387.67,215.60 L389.66,213.48 L391.65,211.38 L393.64,209.30 L395.62,207.24 L397.61,205.20 L399.60,203.18 L401.58,201.18 L403.57,199.20 L405.56,197.24 L407.55,195.30 L409.53,193.38 L411.52,191.48 L413.51,189.60 L415.49,187.74 L417.48,185.90 L419.47,184.07 L421.46,182.26 L423.44,180.48 L425.43,178.70 L427.42,176.95 L429.40,175.22 L431.39,173.50 L433.38,171.80 L435.37,170.12 L437.35,168.46 L439.34,166.81 L441.33,165.18 L443.31,163.56 L445.30,161.95 L447.29,160.35 L449.28,158.77 L451.26,157.21 L453.25,155.65 L455.24,154.11 L457.22,152.58 L459.21,151.07 L461.20,149.57 L463.19,148.08 L465.17,146.60 L467.16,145.14 L469.15,143.69 L471.13,142.26 L473.12,140.84 L475.11,139.43 L477.10,138.04 L479.08,136.66 L481.07,135.29 L483.06,133.94 L485.04,132.60 L487.03,131.28 L489.02,129.97 L491.01,128.67 L492.99,127.39 L494.98,126.12 L496.97,124.87 L498.95,123.63 L500.94,122.40 L502.93,121.19 L504.92,120.00 L506.90,118.82 L508.89,117.65 L510.88,116.50 L512.86,115.36 L514.85,114.24 L516.84,113.13 L518.83,112.04 L520.81,110.96 L522.80,109.90 L524.79,108.85 L526.77,107.82 L528.76,106.80 L530.75,105.80 L532.74,104.81 L534.72,103.84 L536.71,102.87 L538.70,101.92 L540.68,100.99 L542.67,100.07 L544.66,99.15 L546.65,98.26 L548.63,97.37 L550.62,96.49 L552.61,95.63 L554.59,94.77 L556.58,93.93 L558.57,93.10 L560.56,92.27 L562.54,91.46 L564.53,90.65 L566.52,89.86 L568.50,89.07 L570.49,88.29 L572.48,87.52 L574.47,86.76 L576.45,86.00 L578.44,85.26 L580.43,84.52 L582.41,83.78 L584.40,83.06 L586.39,82.33 L588.38,81.62 L590.36,80.91 L592.35,80.21 L594.34,79.51 L596.32,78.81 L598.31,78.12 L600.30,77.44 L602.29,76.76 L604.27,76.08 L606.26,75.41 L608.25,74.74 L610.23,74.08 L612.22,73.42 L614.21,72.78 L616.20,72.14 L618.18,71.50 L620.17,70.88 L622.16,70.26 L624.14,69.64 L626.13,69.04 L628.12,68.44 L630.11,67.84 L632.09,67.26 L634.08,66.67 L636.07,66.10 L638.05,65.53 L640.04,64.97 L642.03,64.41 L644.02,63.86 L646.00,63.32 L647.99,62.78 L649.98,62.24 L651.96,61.72 L653.95,61.19 L655.94,60.68 L657.93,60.17 L659.91,59.66 L661.90,59.16 L663.89,58.67 L665.87,58.18 L667.86,57.69 L669.85,57.21 L671.84,56.74 L673.82,56.27 L675.81,55.80 L677.80,55.35 L679.78,54.89 L681.77,54.44 L683.76,54.00 L685.75,53.56 L687.73,53.12 L689.72,52.69 L691.71,52.27 L693.69,51.84 L695.68,51.43 L697.67,51.01 L699.66,50.61 L701.64,50.20 L703.63,49.80 L705.62,49.41 L707.60,49.02 L709.59,48.63 L711.58,48.24 L713.57,47.87 L715.55,47.49 L717.54,47.12 L719.53,46.75 L721.51,46.39 L723.50,46.03 L725.49,45.67 L727.48,45.32 L729.46,44.97 L731.45,44.63 L733.44,44.29 L735.42,43.95 L737.41,43.62 L739.40,43.29 L741.39,42.96 L743.37,42.63 L745.36,42.31 L747.35,42.00 L749.33,41.68 L751.32,41.37 L753.31,41.07 L755.30,40.76 L757.28,40.46 L759.27,40.16 L761.26,39.87 L763.24,39.58 L765.23,39.29 L767.22,39.00 L769.21,38.72 L771.19,38.44 L773.18,38.17 L775.17,37.89 L777.15,37.62 L779.14,37.35 L781.13,37.09 L783.12,36.82 L785.10,36.56 L787.09,36.31 L789.08,36.05 L791.06,35.80 L793.05,35.55 L795.04,35.30 L797.03,35.06 L799.01,34.82 L801.00,34.58 L802.99,34.34 L804.97,34.11 L806.96,33.87 L808.95,33.64 L810.94,33.42 L812.92,33.19 L814.91,32.97 L816.90,32.75 L818.88,32.53 L820.87,32.31 L822.86,32.10 L824.85,31.89 L826.83,31.68 L828.82,31.47 L830.81,31.26 L832.79,31.06 L834.78,30.86 L836.77,30.66 L838.76,30.46 L840.74,30.27 L842.73,30.07 L844.72,29.88 L846.70,29.69 L848.69,29.51 L850.68,29.32 L852.67,29.14 L854.65,28.95 L856.64,28.77 L858.63,28.59 L860.61,28.42 L862.60,28.24 L864.59,28.07 L866.58,27.90 L868.56,27.73 L870.55,27.56 L872.54,27.39 L874.52,27.23 L876.51,27.07 L878.50,26.90 L880.49,26.74 L882.47,26.59 L884.46,26.43 L886.45,26.27 L888.43,26.12 L890.42,25.97 L892.41,25.82 L894.40,25.67 L896.38,25.52 L898.37,25.37 L900.36,25.23 L902.34,25.08 L904.33,24.94 L906.32,24.80 L908.31,24.66 L910.29,24.52 L912.28,24.39 L914.27,24.25 L916.25,24.12 L918.24,23.98 L920.23,23.85 L922.22,23.72 L924.20,23.59 L926.19,23.46 L928.18,23.34 L930.16,23.21 L932.15,23.09 L934.14,22.96 L936.13,22.84 L938.11,22.72 L940.10,22.60" stroke="#ff0000" stroke-dasharray="5 3" stroke-dashoffset="2.7"/><path d="M105.50,805.60 L107.49,799.46 L109.47,793.35 L111.46,787.28 L113.45,781.24 L115.44,775.24 L117.42,769.27 L119.41,763.35 L121.40,757.46 L123.38,751.60 L125.37,745.80 L127.36,740.06 L129.35,734.38 L131.33,728.76 L133.32,723.18 L135.31,717.64 L137.29,712.14 L139.28,706.67 L141.27,701.22 L143.26,695.79 L145.24,690.37 L147.23,684.96 L149.22,679.55 L151.20,674.13 L153.19,668.70 L155.18,663.25 L157.17,657.78 L159.15,652.33 L161.14,646.89 L163.13,641.48 L165.11,636.09 L167.10,630.72 L169.09,625.39 L171.08,620.08 L173.06,614.80 L175.05,609.56 L177.04,604.35 L179.02,599.18 L181.01,594.05 L183.00,588.96 L184.99,583.91 L186.97,578.91 L188.96,573.96 L190.95,569.06 L192.93,564.22 L194.92,559.42 L196.91,554.68 L198.90,549.97 L200.88,545.32 L202.87,540.70 L204.86,536.12 L206.84,531.57 L208.83,527.06 L210.82,522.58 L212.81,518.12 L214.79,513.70 L216.78,509.30 L218.77,504.95 L220.75,500.64 L222.74,496.37 L224.73,492.12 L226.72,487.91 L228.70,483.72 L230.69,479.55 L232.68,475.40 L234.66,471.26 L236.65,467.13 L238.64,463.01 L240.63,458.92 L242.61,454.86 L244.60,450.83 L246.59,446.84 L248.57,442.87 L250.56,438.92 L252.55,435.00 L254.54,431.10 L256.52,427.22 L258.51,423.36 L260.50,419.52 L262.48,415.70 L264.47,411.89 L266.46,408.11 L268.45,404.34 L270.43,400.60 L272.42,396.89 L274.41,393.20 L276.39,389.54 L278.38,385.92 L280.37,382.33 L282.36,378.77 L284.34,375.25 L286.33,371.77 L288.32,368.33 L290.30,364.93 L292.29,361.60 L294.28,358.33 L296.27,355.12 L298.25,351.96 L300.24,348.85 L302.23,345.78 L304.21,342.75 L306.20,339.75 L308.19,336.77 L310.18,333.81 L312.16,330.87 L314.15,327.94 L316.14,325.02 L318.12,322.09 L320.11,319.16 L322.10,316.23 L324.09,313.31 L326.07,310.41 L328.06,307.53 L330.05,304.68 L332.03,301.85 L334.02,299.05 L336.01,296.26 L338.00,293.50 L339.98,290.77 L341.97,288.06 L343.96,285.37 L345.94,282.71 L347.93,280.08 L349.92,277.47 L351.91,274.89 L353.89,272.33 L355.88,269.80 L357.87,267.30 L359.85,264.82 L361.84,262.36 L363.83,259.94 L365.82,257.53 L367.80,255.15 L369.79,252.79 L371.78,250.46 L373.76,248.15 L375.75,245.86 L377.74,243.60 L379.73,241.35 L381.71,239.13 L383.70,236.93 L385.69,234.74 L387.67,232.58 L389.66,230.44 L391.65,228.32 L393.64,226.22 L395.62,224.14 L397.61,222.07 L399.60,220.03 L401.58,218.00 L403.57,215.99 L405.56,213.99 L407.55,212.00 L409.53,210.02 L411.52,208.04 L413.51,206.08 L415.49,204.13 L417.48,202.18 L419.47,200.25 L421.46,198.33 L423.44,196.43 L425.43,194.53 L427.42,192.65 L429.40,190.79 L431.39,188.94 L433.38,187.11 L435.37,185.29 L437.35,183.49 L439.34,181.71 L441.33,179.95 L443.31,178.20 L445.30,176.47 L447.29,174.75 L449.28,173.05 L451.26,171.37 L453.25,169.71 L455.24,168.06 L457.22,166.43 L459.21,164.81 L461.20,163.20 L463.19,161.61 L465.17,160.03 L467.16,158.46 L469.15,156.90 L471.13,155.36 L473.12,153.83 L475.11,152.31 L477.10,150.80 L479.08,149.30 L481.07,147.81 L483.06,146.33 L485.04,144.86 L487.03,143.40 L489.02,141.95 L491.01,140.49 L492.99,139.03 L494.98,137.56 L496.97,136.10 L498.95,134.64 L500.94,133.19 L502.93,131.76 L504.92,130.33 L506.90,128.93 L508.89,127.55 L510.88,126.19 L512.86,124.86 L514.85,123.55 L516.84,122.29 L518.83,121.06 L520.81,119.87 L522.80,118.73 L524.79,117.61 L526.77,116.52 L528.76,115.45 L530.75,114.39 L532.74,113.35 L534.72,112.33 L536.71,111.32 L538.70,110.33 L540.68,109.35 L542.67,108.39 L544.66,107.44 L546.65,106.51 L548.63,105.59 L550.62,104.69 L552.61,103.79 L554.59,102.91 L556.58,102.04 L558.57,101.18 L560.56,100.33 L562.54,99.49 L564.53,98.66 L566.52,97.84 L568.50,97.03 L570.49,96.22 L572.48,95.43 L574.47,94.64 L576.45,93.86 L578.44,93.08 L580.43,92.31 L582.41,91.54 L584.40,90.78 L586.39,90.03 L588.38,89.28 L590.36,88.53 L592.35,87.78 L594.34,87.04 L596.32,86.30 L598.31,85.56 L600.30,84.82 L602.29,84.08 L604.27,83.33 L606.26,82.59 L608.25,81.84 L610.23,81.09 L612.22,80.35 L614.21,79.61 L616.20,78.88 L618.18,78.14 L620.17,77.41 L622.16,76.69 L624.14,75.97 L626.13,75.25 L628.12,74.54 L630.11,73.84 L632.09,73.14 L634.08,72.45 L636.07,71.76 L638.05,71.09 L640.04,70.42 L642.03,69.76 L644.02,69.10 L646.00,68.46 L647.99,67.82 L649.98,67.20 L651.96,66.59 L653.95,65.98 L655.94,65.39 L657.93,64.81 L659.91,64.24 L661.90,63.68 L663.89,63.13 L665.87,62.59 L667.86,62.06 L669.85,61.54 L671.84,61.02 L673.82,60.50 L675.81,60.00 L677.80,59.50 L679.78,59.00 L681.77,58.52 L683.76,58.03 L685.75,57.56 L687.73,57.09 L689.72,56.62 L691.71,56.16 L693.69,55.71 L695.68,55.26 L697.67,54.81 L699.66,54.37 L701.64,53.94 L703.63,53.51 L705.62,53.08 L707.60,52.65 L709.59,52.23 L711.58,51.82 L713.57,51.41 L715.55,51.00 L717.54,50.59 L719.53,50.19 L721.51,49.79 L723.50,49.39 L725.49,49.00 L727.48,48.60 L729.46,48.22 L731.45,47.83 L733.44,47.44 L735.42,47.06 L737.41,46.68 L739.40,46.30 L741.39,45.93 L743.37,45.55 L745.36,45.18 L747.35,44.82 L749.33,44.45 L751.32,44.09 L753.31,43.73 L755.30,43.37 L757.28,43.02 L759.27,42.67 L761.26,42.32 L763.24,41.98 L765.23,41.64 L767.22,41.30 L769.21,40.96 L771.19,40.63 L773.18,40.30 L775.17,39.98 L777.15,39.66 L779.14,39.34 L781.13,39.02 L783.12,38.71 L785.10,38.40 L787.09,38.10 L789.08,37.80 L791.06,37.51 L793.05,37.21 L795.04,36.92 L797.03,36.64 L799.01,36.36 L801.00,36.08 L802.99,35.81 L804.97,35.54 L806.96,35.28 L808.95,35.01 L810.94,34.75 L812.92,34.49 L814.91,34.23 L816.90,33.98 L818.88,33.73 L820.87,33.48 L822.86,33.24 L824.85,32.99 L826.83,32.75 L828.82,32.51 L830.81,32.28 L832.79,32.05 L834.78,31.82 L836.77,31.59 L838.76,31.36 L840.74,31.14 L842.73,30.92 L844.72,30.70 L846.70,30.48 L848.69,30.27 L850.68,30.06 L852.67,29.85 L854.65,29.64 L856.64,29.44 L858.63,29.24 L860.61,29.04 L862.60,28.84 L864.59,28.65 L866.58,28.46 L868.56,28.27 L870.55,28.08 L872.54,27.89 L874.52,27.71 L876.51,27.53 L878.50,27.34 L880.49,27.17 L882.47,26.99 L884.46,26.81 L886.45,26.64 L888.43,26.47 L890.42,26.30 L892.41,26.13 L894.40,25.96 L896.38,25.80 L898.37,25.64 L900.36,25.47 L902.34,25.32 L904.33,25.16 L906.32,25.00 L908.31,24.85 L910.29,24.69 L912.28,24.54 L914.27,24.39 L916.25,24.24 L918.24,24.10 L920.23,23.95 L922.22,23.81 L924.20,23.67 L926.19,23.53 L928.18,23.39 L930.16,23.26 L932.15,23.12 L934.14,22.99 L936.13,22.86 L938.11,22.73 L940.10,22.60" stroke="#0000ff"/><path d="M105.50,805.60 L107.49,799.46 L109.47,793.35 L111.46,787.28 L113.45,781.24 L115.44,775.24 L117.42,769.27 L119.41,763.35 L121.40,757.46 L123.38,751.60 L125.37,745.80 L127.36,740.06 L129.35,734.38 L131.33,728.76 L133.32,723.18 L135.31,717.64 L137.29,712.14 L139.28,706.67 L141.27,701.22 L143.26,695.79 L145.24,690.37 L147.23,684.96 L149.22,679.55 L151.20,674.13 L153.19,668.70 L155.18,663.25 L157.17,657.78 L159.15,652.33 L161.14,646.89" stroke="#008000" stroke-dasharray="3 5" stroke-dashoffset="0.30"/><path d="M161.14,646.89 L163.28,641.06 L165.42,635.26 L167.56,629.49 L169.70,623.75 L171.84,618.04 L173.98,612.38 L176.12,606.75 L178.26,601.16 L180.40,595.62 L182.54,590.13 L184.68,584.69 L186.82,579.30 L188.96,573.96" stroke="#008000" stroke-dasharray="2 6" stroke-dashoffset="0.49"/><path d="M188.96,573.96 L190.95,569.06 L192.93,564.22 L194.92,559.42 L196.91,554.68 L198.90,549.97 L200.88,545.32 L202.87,540.70 L204.86,536.12 L206.84,531.57 L208.83,527.06 L210.82,522.58 L212.81,518.12 L214.79,513.70 L216.78,509.30" stroke="#008000" stroke-dasharray="1 7" stroke-dashoffset="6.55"/><path d="M467.16,158.46 L469.22,156.85 L471.28,155.25 L473.34,153.66 L475.40,152.09 L477.46,150.52 L479.52,148.97 L481.59,147.43 L483.65,145.90 L485.71,144.38 L487.77,142.87 L489.83,141.36 L491.89,139.84 L493.95,138.32 L496.01,136.80 L498.07,135.29 L500.13,133.78 L502.19,132.29 L504.25,130.81 L506.31,129.34 L508.37,127.90 L510.44,126.49 L512.50,125.10 L514.56,123.75 L516.62,122.43 L518.68,121.15 L520.74,119.91 L522.80,118.73" stroke="#008000" stroke-dasharray="1 7" stroke-dashoffset="0.38"/><path d="M522.80,118.73 L524.79,117.61 L526.77,116.52 L528.76,115.45 L530.75,114.39 L532.74,113.35 L534.72,112.33 L536.71,111.32 L538.70,110.33 L540.68,109.35 L542.67,108.39 L544.66,107.44 L546.65,106.51 L548.63,105.59 L550.62,104.69 L552.61,103.79 L554.59,102.91 L556.58,102.04 L558.57,101.18 L560.56,100.33 L562.54,99.49 L564.53,98.66 L566.52,97.84 L568.50,97.03 L570.49,96.22 L572.48,95.43 L574.47,94.64 L576.45,93.86 L578.44,93.08 L580.43,92.31 L582.41,91.54 L584.40,90.78 L586.39,90.03 L588.38,89.28 L590.36,88.53 L592.35,87.78 L594.34,87.04 L596.32,86.30 L598.31,85.56 L600.30,84.82 L602.29,84.08 L604.27,83.33 L606.26,82.59" stroke="#008000" stroke-dasharray="2 6" stroke-dashoffset="4.80"/><path d="M606.26,82.59 L608.25,81.84 L610.23,81.09 L612.22,80.35 L614.21,79.61 L616.20,78.88 L618.18,78.14 L620.17,77.41 L622.16,76.69 L624.14,75.97 L626.13,75.25 L628.12,74.54 L630.11,73.84 L632.09,73.14 L634.08,72.45 L636.07,71.76 L638.05,71.09 L640.04,70.42 L642.03,69.76 L644.02,69.10 L646.00,68.46 L647.99,67.82 L649.98,67.20 L651.96,66.59 L653.95,65.98 L655.94,65.39 L657.93,64.81 L659.91,64.24 L661.90,63.68 L663.89,63.13 L665.87,62.59 L667.86,62.06 L669.85,61.54 L671.84,61.02 L673.82,60.50 L675.81,60.00 L677.80,59.50 L679.78,59.00 L681.77,58.52 L683.76,58.03 L685.75,57.56 L687.73,57.09 L689.72,56.62 L691.71,56.16 L693.69,55.71 L695.68,55.26 L697.67,54.81 L699.66,54.37 L701.64,53.94 L703.63,53.51 L705.62,53.08 L707.60,52.65 L709.59,52.23 L711.58,51.82 L713.57,51.41 L715.55,51.00 L717.54,50.59 L719.53,50.19 L721.51,49.79 L723.50,49.39 L725.49,49.00 L727.48,48.60 L729.46,48.22 L731.45,47.83 L733.44,47.44 L735.42,47.06 L737.41,46.68 L739.40,46.30 L741.39,45.93 L743.37,45.55 L745.36,45.18 L747.35,44.82 L749.33,44.45 L751.32,44.09 L753.31,43.73 L755.30,43.37 L757.28,43.02 L759.27,42.67 L761.26,42.32 L763.24,41.98 L765.23,41.64 L767.22,41.30 L769.21,40.96 L771.19,40.63 L773.18,40.30 L775.17,39.98 L777.15,39.66 L779.14,39.34 L781.13,39.02 L783.12,38.71 L785.10,38.40 L787.09,38.10 L789.08,37.80 L791.06,37.51 L793.05,37.21 L795.04,36.92 L797.03,36.64 L799.01,36.36 L801.00,36.08 L802.99,35.81 L804.97,35.54 L806.96,35.28 L808.95,35.01 L810.94,34.75 L812.92,34.49 L814.91,34.23 L816.90,33.98 L818.88,33.73 L820.87,33.48 L822.86,33.24 L824.85,32.99 L826.83,32.75 L828.82,32.51 L830.81,32.28 L832.79,32.05 L834.78,31.82 L836.77,31.59 L838.76,31.36 L840.74,31.14 L842.73,30.92 L844.72,30.70 L846.70,30.48 L848.69,30.27 L850.68,30.06 L852.67,29.85 L854.65,29.64 L856.64,29.44 L858.63,29.24 L860.61,29.04 L862.60,28.84 L864.59,28.65 L866.58,28.46 L868.56,28.27 L870.55,28.08 L872.54,27.89 L874.52,27.71 L876.51,27.53 L878.50,27.34 L880.49,27.17 L882.47,26.99 L884.46,26.81 L886.45,26.64 L888.43,26.47 L890.42,26.30 L892.41,26.13 L894.40,25.96 L896.38,25.80 L898.37,25.64 L900.36,25.47 L902.34,25.32 L904.33,25.16 L906.32,25.00 L908.31,24.85 L910.29,24.69 L912.28,24.54 L914.27,24.39 L916.25,24.24 L918.24,24.10 L920.23,23.95 L922.22,23.81 L924.20,23.67 L926.19,23.53 L928.18,23.39 L930.16,23.26 L932.15,23.12 L934.14,22.99 L936.13,22.86 L938.11,22.73 L940.10,22.60" stroke="#008000" stroke-dasharray="3 5" stroke-dashoffset="7.85"/><path d="M105.50,805.60 L107.49,799.46 L109.47,793.35 L111.46,787.28 L113.45,781.24 L115.44,775.24 L117.42,769.27 L119.41,763.35 L121.40,757.46 L123.38,751.60 L125.37,745.80 L127.36,740.06 L129.35,734.38 L131.33,728.76 L133.32,723.18 L135.31,717.64 L137.29,712.14 L139.28,706.67 L141.27,701.22 L143.26,695.79 L145.24,690.37 L147.23,684.96 L149.22,679.55 L151.20,674.13 L153.19,668.70 L155.18,663.25 L157.17,657.78 L159.15,652.33 L161.14,646.89 L163.13,641.48 L165.11,636.09 L167.10,630.72 L169.09,625.39 L171.08,620.08 L173.06,614.80 L175.05,609.56 L177.04,604.35 L179.02,599.18 L181.01,594.05 L183.00,588.96 L184.99,583.91 L186.97,578.91 L188.96,573.96 L190.95,569.06 L192.93,564.22 L194.92,559.42 L196.91,554.68 L198.90,549.97 L200.88,545.32 L202.87,540.70 L204.86,536.12 L206.84,531.57 L208.83,527.06 L210.82,522.58 L212.81,518.12 L214.79,513.70 L216.78,509.30 L218.77,504.95 L220.75,500.64 L222.74,496.37 L224.73,492.12 L226.72,487.91 L228.70,483.72 L230.69,479.55 L232.68,475.40 L234.66,471.26 L236.65,467.13 L238.64,463.01 L240.63,458.92 L242.61,454.86 L244.60,450.83 L246.59,446.84 L248.57,442.87 L250.56,438.92 L252.55,435.00 L254.54,431.10 L256.52,427.22 L258.51,423.36 L260.50,419.52 L262.48,415.70 L264.47,411.89 L266.46,408.11 L268.45,404.34 L270.43,400.60 L272.42,396.89 L274.41,393.20 L276.39,389.54 L278.38,385.92 L280.37,382.33 L282.36,378.77 L284.34,375.25 L286.33,371.77 L288.32,368.33 L290.30,364.93 L292.29,361.60 L294.28,358.33 L296.27,355.12 L298.25,351.96 L300.24,348.85 L302.23,345.78 L304.21,342.75 L306.20,339.75 L308.19,336.77 L310.18,333.81 L312.16,330.87 L314.15,327.94 L316.14,325.02 L318.12,322.09 L320.11,319.16 L322.10,316.23 L324.09,313.31 L326.07,310.41 L328.06,307.53 L330.05,304.68 L332.03,301.85 L334.02,299.05 L336.01,296.26 L338.00,293.50 L339.98,290.77 L341.97,288.06 L343.96,285.37 L345.94,282.71 L347.93,280.08 L349.92,277.47 L351.91,274.89 L353.89,272.33 L355.88,269.80 L357.87,267.30 L359.85,264.82 L361.84,262.36 L363.83,259.94 L365.82,257.53 L367.80,255.15 L369.79,252.79 L371.78,250.46 L373.76,248.15 L375.75,245.86 L377.74,243.60 L379.73,241.35 L381.71,239.13 L383.70,236.93 L385.69,234.74 L387.67,232.58 L389.66,230.44 L391.65,228.32 L393.64,226.22 L395.62,224.14 L397.61,222.07 L399.60,220.03 L401.58,218.00 L403.57,215.99 L405.56,213.99 L407.55,212.00 L409.53,210.02 L411.52,208.04 L413.51,206.08 L415.49,204.13 L417.48,202.18 L419.47,200.25 L421.46,198.33 L423.44,196.43 L425.43,194.53 L427.42,192.65 L429.40,190.79 L431.39,188.94 L433.38,187.11 L435.37,185.29 L437.35,183.49 L439.34,181.71 L441.33,179.95 L443.31,178.20 L445.30,176.47 L447.29,174.75 L449.28,173.05 L451.26,171.37 L453.25,169.71 L455.24,168.06 L457.22,166.43 L459.21,164.81 L461.20,163.20 L463.19,161.61 L465.17,160.03 L467.16,158.46 L469.15,156.90 L471.13,155.36 L473.12,153.83 L475.11,152.31 L477.10,150.80 L479.08,149.30 L481.07,147.81 L483.06,146.33 L485.04,144.86 L487.03,143.40 L489.02,141.95 L491.01,140.49 L492.99,139.03 L494.98,137.56 L496.97,136.10 L498.95,134.64 L500.94,133.19 L502.93,131.76 L504.92,130.33 L506.90,128.93 L508.89,127.55 L510.88,126.19 L512.86,124.86 L514.85,123.55 L516.84,122.29 L518.83,121.06 L520.81,119.87 L522.80,118.73 L524.79,117.61 L526.77,116.52 L528.76,115.45 L530.75,114.39 L532.74,113.35 L534.72,112.33 L536.71,111.32 L538.70,110.33 L540.68,109.35 L542.67,108.39 L544.66,107.44 L546.65,106.51 L548.63,105.59 L550.62,104.69 L552.61,103.79 L554.59,102.91 L556.58,102.04 L558.57,101.18 L560.56,100.33 L562.54,99.49 L564.53,98.66 L566.52,97.84 L568.50,97.03 L570.49,96.22 L572.48,95.43 L574.47,94.64 L576.45,93.86 L578.44,93.08 L580.43,92.31 L582.41,91.54 L584.40,90.78 L586.39,90.03 L588.38,89.28 L590.36,88.53 L592.35,87.78 L594.34,87.04 L596.32,86.30 L598.31,85.56 L600.30,84.82 L602.29,84.08 L604.27,83.33 L606.26,82.59 L608.25,81.84 L610.23,81.09 L612.22,80.35 L614.21,79.61 L616.20,78.88 L618.18,78.14 L620.17,77.41 L622.16,76.69 L624.14,75.97 L626.13,75.25 L628.12,74.54 L630.11,73.84 L632.09,73.14 L634.08,72.45 L636.07,71.76 L638.05,71.09 L640.04,70.42 L642.03,69.76 L644.02,69.10 L646.00,68.46 L647.99,67.82 L649.98,67.20 L651.96,66.59 L653.95,65.98 L655.94,65.39 L657.93,64.81 L659.91,64.24 L661.90,63.68 L663.89,63.13 L665.87,62.59 L667.86,62.06 L669.85,61.54 L671.84,61.02 L673.82,60.50 L675.81,60.00 L677.80,59.50 L679.78,59.00 L681.77,58.52 L683.76,58.03 L685.75,57.56 L687.73,57.09 L689.72,56.62 L691.71,56.16 L693.69,55.71 L695.68,55.26 L697.67,54.81 L699.66,54.37 L701.64,53.94 L703.63,53.51 L705.62,53.08 L707.60,52.65 L709.59,52.23 L711.58,51.82 L713.57,51.41 L715.55,51.00 L717.54,50.59 L719.53,50.19 L721.51,49.79 L723.50,49.39 L725.49,49.00 L727.48,48.60 L729.46,48.22 L731.45,47.83 L733.44,47.44 L735.42,47.06 L737.41,46.68 L739.40,46.30 L741.39,45.93 L743.37,45.55 L745.36,45.18 L747.35,44.82 L749.33,44.45 L751.32,44.09 L753.31,43.73 L755.30,43.37 L757.28,43.02 L759.27,42.67 L761.26,42.32 L763.24,41.98 L765.23,41.64 L767.22,41.30 L769.21,40.96 L771.19,40.63 L773.18,40.30 L775.17,39.98 L777.15,39.66 L779.14,39.34 L781.13,39.02 L783.12,38.71 L785.10,38.40 L787.09,38.10 L789.08,37.80 L791.06,37.51 L793.05,37.21 L795.04,36.92 L797.03,36.64 L799.01,36.36 L801.00,36.08 L802.99,35.81 L804.97,35.54 L806.96,35.28 L808.95,35.01 L810.94,34.75 L812.92,34.49 L814.91,34.23 L816.90,33.98 L818.88,33.73 L820.87,33.48 L822.86,33.24 L824.85,32.99 L826.83,32.75 L828.82,32.51 L830.81,32.28 L832.79,32.05 L834.78,31.82 L836.77,31.59 L838.76,31.36 L840.74,31.14 L842.73,30.92 L844.72,30.70 L846.70,30.48 L848.69,30.27 L850.68,30.06 L852.67,29.85 L854.65,29.64 L856.64,29.44 L858.63,29.24 L860.61,29.04 L862.60,28.84 L864.59,28.65 L866.58,28.46 L868.56,28.27 L870.55,28.08 L872.54,27.89 L874.52,27.71 L876.51,27.53 L878.50,27.34 L880.49,27.17 L882.47,26.99 L884.46,26.81 L886.45,26.64 L888.43,26.47 L890.42,26.30 L892.41,26.13 L894.40,25.96 L896.38,25.80 L898.37,25.64 L900.36,25.47 L902.34,25.32 L904.33,25.16 L906.32,25.00 L908.31,24.85 L910.29,24.69 L912.28,24.54 L914.27,24.39 L916.25,24.24 L918.24,24.10 L920.23,23.95 L922.22,23.81 L924.20,23.67 L926.19,23.53 L928.18,23.39 L930.16,23.26 L932.15,23.12 L934.14,22.99 L936.13,22.86 L938.11,22.73 L940.10,22.60" stroke="#ff0000" stroke-dasharray="5 3" stroke-dashoffset="5.3"/></g>
<text x="97.6" y="816.0" text-anchor="end" class="num">0</text><text x="97.6" y="738.6" text-anchor="end" class="num">0.1</text><text x="97.6" y="660.3" text-anchor="end" class="num">0.2</text><text x="97.6" y="582.0" text-anchor="end" class="num">0.3</text><text x="97.6" y="503.7" text-anchor="end" class="num">0.4</text><text x="97.6" y="425.4" text-anchor="end" class="num">0.5</text><text x="97.6" y="347.1" text-anchor="end" class="num">0.6</text><text x="97.6" y="268.8" text-anchor="end" class="num">0.7</text><text x="97.6" y="190.5" text-anchor="end" class="num">0.8</text><text x="97.6" y="112.2" text-anchor="end" class="num">0.9</text><text x="98.9" y="35.6" text-anchor="end" class="num">1</text>
<text x="105.5" y="840" text-anchor="middle" class="num">0</text><text x="244.1" y="840" text-anchor="middle" class="num">1</text><text x="382.4" y="840" text-anchor="middle" class="num">2</text><text x="522.8" y="840" text-anchor="middle" class="num">3</text><text x="662.7" y="840" text-anchor="middle" class="num">4</text><text x="800.5" y="840" text-anchor="middle" class="num">5</text><text x="940.1" y="840" text-anchor="middle" class="num">6</text>
<line x1="355" y1="160" x2="429" y2="238" stroke="#000" stroke-width="2.2"/>
<polygon points="428,222 432,222 447,255 442,257 414,242 414,237 427,237" fill="#000"/>
<text transform="translate(466.1,260.3) scale(0.91,1)" class="mdl" style="letter-spacing:1.37px">Yamada-Ota Model</text>
<text transform="translate(555.6,420.6) scale(0.91,1)" class="mdl" style="letter-spacing:1.67px">Xue Model</text>
<text transform="translate(482.5,587.4) scale(0.91,1)" class="mdl" style="letter-spacing:1.35px">Tiwari-Das Model</text>
<g fill="#0000ff"><rect x="750" y="192.7" width="17" height="8"/><rect x="775" y="192.7" width="17" height="8"/><rect x="801" y="192.7" width="4" height="8"/></g><use href="#gam" transform="translate(0,0.0)"/><text x="842.2" y="204.5" class="eq">=</text><text x="867.9" y="203.8" class="num">0.3</text><g fill="#0000ff"><rect x="750" y="246.7" width="17" height="8"/><rect x="775" y="246.7" width="17" height="8"/><rect x="801" y="246.7" width="4" height="8"/></g><use href="#gam" transform="translate(0,54.0)"/><text x="850.2" y="258.5" class="eq">=</text><text x="875.9" y="257.8" class="num">0.6</text><g fill="#0000ff"><rect x="750" y="300.7" width="17" height="8"/><rect x="775" y="300.7" width="17" height="8"/><rect x="801" y="300.7" width="4" height="8"/></g><use href="#gam" transform="translate(0,108.0)"/><text x="850.2" y="312.5" class="eq">=</text><text x="875.9" y="311.8" class="num">0.9</text><g fill="#ff0000"><rect x="740.4" y="354.7" width="14" height="8"/><rect x="758" y="354.7" width="4" height="8"/><rect x="766" y="354.7" width="14" height="8"/><rect x="783.4" y="354.7" width="4" height="8"/><rect x="791" y="354.7" width="14" height="8"/></g><use href="#gam" transform="translate(0,162.0)"/><text x="850.2" y="366.5" class="eq">=</text><text x="875.9" y="365.8" class="num">0.3</text><g fill="#ff0000"><rect x="740.4" y="408.7" width="14" height="8"/><rect x="758" y="408.7" width="4" height="8"/><rect x="766" y="408.7" width="14" height="8"/><rect x="783.4" y="408.7" width="4" height="8"/><rect x="791" y="408.7" width="14" height="8"/></g><use href="#gam" transform="translate(0,216.0)"/><text x="842.2" y="420.5" class="eq">=</text><text x="867.9" y="419.8" class="num">0.6</text><g fill="#ff0000"><rect x="740.4" y="462.7" width="14" height="8"/><rect x="758" y="462.7" width="4" height="8"/><rect x="766" y="462.7" width="14" height="8"/><rect x="783.4" y="462.7" width="4" height="8"/><rect x="791" y="462.7" width="14" height="8"/></g><use href="#gam" transform="translate(0,270.0)"/><text x="842.2" y="474.5" class="eq">=</text><text x="867.9" y="473.8" class="num">0.9</text><g fill="#008000"><rect x="745.00" y="516.4" width="3" height="8.6"/><rect x="751.33" y="516.4" width="3" height="8.6"/><rect x="757.66" y="516.4" width="3" height="8.6"/><rect x="763.99" y="516.4" width="3" height="8.6"/><rect x="770.32" y="516.4" width="3" height="8.6"/><rect x="776.65" y="516.4" width="3" height="8.6"/><rect x="782.98" y="516.4" width="3" height="8.6"/><rect x="789.31" y="516.4" width="3" height="8.6"/><rect x="795.64" y="516.4" width="3" height="8.6"/><rect x="801.97" y="516.4" width="3" height="8.6"/></g><use href="#gam" transform="translate(0,324.0)"/><text x="842.2" y="528.5" class="eq">=</text><text x="867.9" y="527.8" class="num">0.3</text><g fill="#008000"><rect x="745.00" y="570.4" width="3" height="8.6"/><rect x="751.33" y="570.4" width="3" height="8.6"/><rect x="757.66" y="570.4" width="3" height="8.6"/><rect x="763.99" y="570.4" width="3" height="8.6"/><rect x="770.32" y="570.4" width="3" height="8.6"/><rect x="776.65" y="570.4" width="3" height="8.6"/><rect x="782.98" y="570.4" width="3" height="8.6"/><rect x="789.31" y="570.4" width="3" height="8.6"/><rect x="795.64" y="570.4" width="3" height="8.6"/><rect x="801.97" y="570.4" width="3" height="8.6"/></g><use href="#gam" transform="translate(0,378.0)"/><text x="842.2" y="582.5" class="eq">=</text><text x="867.9" y="581.8" class="num">0.6</text><g fill="#008000"><rect x="745.00" y="624.4" width="3" height="8.6"/><rect x="751.33" y="624.4" width="3" height="8.6"/><rect x="757.66" y="624.4" width="3" height="8.6"/><rect x="763.99" y="624.4" width="3" height="8.6"/><rect x="770.32" y="624.4" width="3" height="8.6"/><rect x="776.65" y="624.4" width="3" height="8.6"/><rect x="782.98" y="624.4" width="3" height="8.6"/><rect x="789.31" y="624.4" width="3" height="8.6"/><rect x="795.64" y="624.4" width="3" height="8.6"/><rect x="801.97" y="624.4" width="3" height="8.6"/></g><use href="#gam" transform="translate(0,432.0)"/><text x="842.2" y="636.5" class="eq">=</text><text x="867.9" y="635.8" class="num">0.9</text>
<rect x="727.6" y="660" width="3" height="1.2" fill="#000"/>
<rect x="921" y="660" width="4.5" height="1.2" fill="#000"/>
<text transform="translate(40,474.7) rotate(-90) scale(1.28,1)" class="it" style="font-size:41.5px">F</text>
<polygon points="12.3,433.4 16,433.4 25.7,436 25.7,437.2 14,436.8 12.3,435.5" fill="#000"/>
<path d="M12.3,404.1 C18,415 38,420 47.6,411.4 C38,413 20,409 12.3,404.1 Z" fill="#000"/>
<path d="M10.7,370.7 C18,362 34,363 44.5,375.6 C34,369 20,368 10.7,370.7 Z" fill="#000"/>
<text transform="translate(41.4,399.2) rotate(-90) skewX(-14) scale(1.1,1)" class="it" style="font-size:38px">&#951;</text>
<text transform="translate(510.4,893.6) scale(1.3,1)" class="it" style="font-size:40px">&#951;</text>
</svg>
</body></html>
